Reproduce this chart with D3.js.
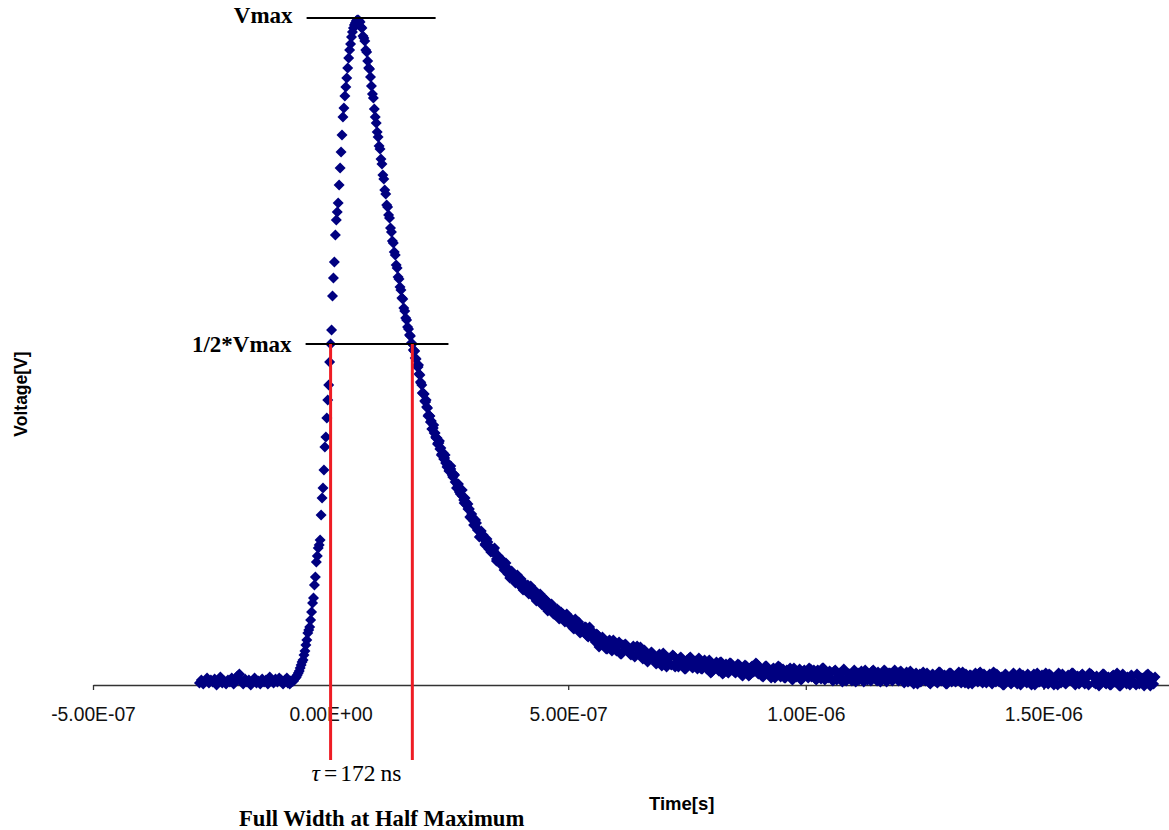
<!DOCTYPE html>
<html>
<head>
<meta charset="utf-8">
<script src="https://cdn.jsdelivr.net/npm/d3@7"></script>
<style>
  html, body { margin: 0; padding: 0; background: #ffffff; }
  svg { display: block; }
</style>
</head>
<body>
<svg id="chart" width="1169" height="830"></svg>
<script>
// Oscilloscope record: sample times (ns)
const timeNs = [
  -276,-272,-268,-264,-260,-256,-252,-248,-244,-240,-236,-232,-228,-224,-220,-216,-212,-208,-204,-200,
  -196,-192,-188,-184,-180,-176,-172,-168,-164,-160,-156,-152,-148,-144,-140,-136,-132,-128,-124,-120,
  -116,-112,-108,-104,-100,-96,-92,
  -90,-88,-86,-84,-82,-80,-78,-76,-74,-72,-70,-68,-66,-64,-62,-60,-58,-56,-54,-52,
  -50,-48,-46,-44,-42,-40,-38,-36,-34,-32,-30,-28,-26,-24,-22,-20,-18,-16,-14,-12,
  -10,-8,-6,-4,-2,0,2,4,6,8,10,12,14,16,18,20,22,24,26,28,
  30,32,34,36,38,40,42,44,46,48,50,52,54,56,58,60,
  62,64,66,68,70,72,74,76,78,80,82,84,86,88,90,92,94,96,98,100,
  102,104,106,108,110,112,114,116,118,120,122,124,126,128,130,132,134,136,138,140,
  142,144,146,148,150,152,154,156,158,160,162,164,166,168,170,172,174,176,178,180,
  182,184,186,188,190,192,194,196,198,200,202,204,206,208,210,212,214,216,218,220,
  222,224,226,228,230,232,234,236,238,240,242,244,246,248,250,
  253,256,259,262,265,268,271,274,277,280,283,286,289,292,295,298,301,304,307,310,
  313,316,319,322,325,328,331,334,337,340,343,346,349,352,355,358,361,364,367,370,
  373,376,379,382,385,388,391,394,397,400,403,406,409,412,415,418,421,424,427,430,
  433,436,439,442,445,448,451,454,457,460,463,466,469,472,475,478,481,484,487,490,
  493,496,499,
  505,510,515,520,525,530,535,540,545,550,555,560,565,570,575,580,585,590,595,600,
  605,610,615,620,625,630,635,640,645,650,655,660,665,670,675,680,685,690,695,700,
  705,710,715,720,725,730,735,740,745,750,755,760,765,770,775,780,785,790,795,800,
  805,810,815,820,825,830,835,840,845,850,855,860,865,870,875,880,885,890,895,900,
  905,910,915,920,925,930,935,940,945,950,955,960,965,970,975,980,985,990,995,1000,
  1005,1010,1015,1020,1025,1030,1035,1040,1045,1050,1055,1060,1065,1070,1075,1080,1085,1090,1095,1100,
  1105,1110,1115,1120,1125,1130,1135,1140,1145,1150,1155,1160,1165,1170,1175,1180,1185,1190,1195,1200,
  1205,1210,1215,1220,1225,1230,1235,1240,1245,1250,1255,1260,1265,1270,1275,1280,1285,1290,1295,1300,
  1305,1310,1315,1320,1325,1330,1335,1340,1345,1350,1355,1360,1365,1370,1375,1380,1385,1390,1395,1400,
  1405,1410,1415,1420,1425,1430,1435,1440,1445,1450,1455,1460,1465,1470,1475,1480,1485,1490,1495,1500,
  1505,1510,1515,1520,1525,1530,1535,1540,1545,1550,1555,1560,1565,1570,1575,1580,1585,1590,1595,1600,
  1605,1610,1615,1620,1625,1630,1635,1640,1645,1650,1655,1660,1665,1670,1675,1680,1685,1690,1695,1700,
  1705,1710,1715,1720,1725,1730,1735
];

// Measured detector voltage (mV) at each sample time
const voltageMv = [
  -13,-10,-14,-11,-8,-13,-10,-12,-9,-15,-12,-7,-13,-11,-14,-10,-12,-8,-14,-11,
  -6,-4,-11,-14,-9,-12,-10,-15,-11,-8,-13,-11,-14,-9,-12,-10,-14,-7,-11,-13,
  -9,-12,-8,-10,-14,-10,-8,
  -13,-12,-14,-11,-12,-10,-11,-9,-8,-7,-5,-3,-1,2,5,8,10,15,19,25,
  30,37,40,43,50,58,67,72,85,93,108,114,122,125,130,155,172,182,200,223,
  233,252,270,285,308,326,340,374,392,408,435,450,458,467,485,502,518,535,553,562,
  574,583,592,602,612,620,626,633,638,642,645,647,649,650,650,649,
  648,643,642,634,632,629,620,618,609,602,601,593,584,576,572,561,553,547,538,533,
  524,521,511,506,495,491,480,476,465,463,455,452,442,438,429,427,418,415,405,402,
  393,391,383,380,372,371,362,359,352,350,343,341,335,334,327,326,320,319,312,311,
  304,303,296,295,287,285,277,276,269,268,263,262,255,254,248,249,241,242,237,237,
  232,232,227,227,221,222,216,216,211,212,207,208,204,205,200,
  201,195,196,188,187,185,178,180,174,170,172,165,161,161,152,153,149,144,147,140,
  139,134,135,131,126,128,128,123,122,118,120,117,111,112,112,107,104,108,104,100,
  99,100,93,96,92,94,90,87,91,86,82,86,84,79,85,80,77,80,75,76,
  70,75,71,73,67,67,71,62,65,63,60,64,56,60,60,56,59,52,54,55,
  50,55,49,
  51,42,51,42,37,42,43,34,43,34,30,36,23,30,27,21,29,23,30,20,
  24,16,25,26,20,16,22,13,24,18,14,20,10,15,18,10,6,14,10,17,
  6,11,6,15,3,8,12,6,1,10,12,3,7,5,12,1,7,2,8,-3,
  4,6,1,8,-4,3,-2,7,0,-2,2,5,-5,0,4,-6,3,-2,7,-4,
  -1,-7,4,-3,-5,1,-8,0,3,-4,-8,0,-4,-9,2,-7,-3,-10,-1,-2,
  -8,1,-5,-9,0,-6,2,-10,-4,-1,-9,-1,-10,-5,-8,1,-11,-4,-7,-2,
  -12,-3,-6,-9,0,-10,-5,-1,-8,-11,-4,-7,0,-12,-3,-9,-2,-6,-11,-1,
  -10,-7,-12,-1,-11,-6,-14,-4,-9,-10,-3,-13,-5,-8,-12,-2,-11,-7,-14,-6,
  -3,-9,-12,-4,-10,-2,-13,-8,-5,-14,-6,-9,-3,-11,-4,-13,-7,-10,-2,-12,
  -6,-9,-15,-4,-10,-7,-12,-5,-14,-3,-11,-8,-13,-6,-15,-4,-9,-12,-7,-10,
  -3,-14,-5,-11,-8,-15,-6,-4,-13,-9,-10,-3,-12,-7,-14,-5,-11,-8,-15,-4,
  -7,-14,-10,-11,-4,-13,-8,-15,-6,-12,-3,-16,-9,-7,-14,-10,-5,-12,-15,-6,
  -11,-8,-13,-4,-16,-9,-7
];

// Second sweep over the decay and tail: sample times (ns)
const sweep2TimeNs = [
  177,181,185,189,193,197,201,205,209,213,217,221,225,229,233,237,241,245,249,253,
  257,261,265,269,273,277,281,285,289,293,297,301,305,309,313,317,321,325,329,333,
  337,341,345,349,353,357,361,365,369,373,377,381,385,389,393,397,401,405,409,413,
  417,421,425,429,433,437,441,445,449,453,457,461,465,469,473,477,481,485,489,493,
  497,
  502,507,512,517,522,527,532,537,542,547,552,557,562,567,572,577,582,587,592,597,
  602,607,612,617,622,627,632,637,642,647,652,657,662,667,672,677,682,687,692,697,
  702,707,712,717,722,727,732,737,742,747,752,757,762,767,772,777,782,787,792,797,
  802,807,812,817,822,827,832,837,842,847,852,857,862,867,872,877,882,887,892,897,
  902,907,912,917,922,927,932,937,942,947,952,957,962,967,972,977,982,987,992,997,
  1002,1007,1012,1017,1022,1027,1032,1037,1042,1047,1052,1057,1062,1067,1072,1077,1082,1087,1092,1097,
  1102,1107,1112,1117,1122,1127,1132,1137,1142,1147,1152,1157,1162,1167,1172,1177,1182,1187,1192,1197,
  1202,1207,1212,1217,1222,1227,1232,1237,1242,1247,1252,1257,1262,1267,1272,1277,1282,1287,1292,1297,
  1302,1307,1312,1317,1322,1327,1332,1337,1342,1347,1352,1357,1362,1367,1372,1377,1382,1387,1392,1397,
  1402,1407,1412,1417,1422,1427,1432,1437,1442,1447,1452,1457,1462,1467,1472,1477,1482,1487,1492,1497,
  1502,1507,1512,1517,1522,1527,1532,1537,1542,1547,1552,1557,1562,1567,1572,1577,1582,1587,1592,1597,
  1602,1607,1612,1617,1622,1627,1632,1637,1642,1647,1652,1657,1662,1667,1672,1677,1682,1687,1692,1697,
  1702,1707,1712,1717,1722,1727,1732
];

// Second sweep voltages (mV)
const sweep2VoltageMv = [
  319,304,305,288,277,276,270,254,254,241,245,233,226,229,215,217,215,203,199,204,
  193,195,182,186,176,180,167,168,166,153,156,145,150,140,133,139,135,125,131,121,
  118,121,122,109,114,107,110,100,107,96,92,99,95,87,95,85,91,80,86,80,
  76,84,74,80,69,74,76,65,64,70,59,66,66,58,55,61,51,58,56,48,
  56,
  46,51,41,47,48,38,38,43,33,38,38,28,35,26,33,29,21,30,19,27,
  19,28,16,24,25,19,15,24,15,22,23,11,19,8,15,17,9,7,16,4,
  14,3,12,5,14,5,3,13,10,1,5,13,2,9,1,10,1,10,1,10,
  -2,5,8,-1,8,-3,6,-3,7,4,-3,6,1,-6,5,-2,-5,4,-1,6,
  3,-6,-3,4,0,-8,2,-5,4,-7,1,-8,-1,2,-10,-2,-5,1,-9,0,
  -6,2,-7,0,-10,-1,-9,2,-3,-8,-2,-11,0,-8,-3,-12,-1,-9,-4,-11,
  0,-7,-10,-1,-12,-3,-5,-11,0,-9,-2,-12,-4,-1,-10,-3,-11,0,-8,-2,
  -4,-13,-2,-10,-5,-14,-3,-9,-12,-2,-11,-6,-14,-4,-7,-13,-2,-10,-5,-14,
  -3,-12,-6,-11,-2,-13,-7,-4,-14,-5,-10,-3,-12,-2,-13,-6,-11,-4,-14,-3,
  -4,-12,-7,-15,-5,-8,-14,-3,-11,-6,-15,-5,-10,-4,-13,-7,-15,-3,-12,-5,
  -14,-8,-4,-11,-15,-6,-3,-13,-7,-14,-5,-10,-3,-15,-6,-12,-4,-14,-7,-3,
  -5,-13,-6,-16,-8,-4,-14,-7,-15,-5,-12,-6,-16,-4,-11,-7,-15,-6,-13,-4,
  -14,-8,-16,-5,-12,-7,-14
];

// Time axis ticks (s) and their printed labels
const tickValues = [-5e-7, 0, 5e-7, 1e-6, 1.5e-6];
const tickLabels = ["-5.00E-07", "0.00E+00", "5.00E-07", "1.00E-06", "1.50E-06"];

// Pulse levels (mV) and the full width at half maximum (ns)
const vMax = 652;
const halfLevel = vMax / 2;
const fwhmStartNs = 0;
const fwhmNs = 172;

// ---------------------------------------------------------------------------
const svg = d3.select("#chart");
const W = 1169, H = 830;
svg.append("rect").attr("width", W).attr("height", H).attr("fill", "#ffffff");

const x = d3.scaleLinear().domain([-5e-7, 1.7643e-6]).range([93, 1169]);
const y = d3.scaleLinear().domain([-15, vMax]).range([685, 18]);

const sansFont = "'Liberation Sans', Arial, sans-serif";
const serifFont = "'Liberation Serif', 'Times New Roman', serif";

// Time axis (drawn under the samples)
const xAxis = d3.axisBottom(x)
  .tickValues(tickValues)
  .tickFormat((d, i) => tickLabels[i])
  .tickSizeInner(5)
  .tickSizeOuter(0);

const gx = svg.append("g")
  .attr("transform", `translate(0,${y(-15)})`)
  .call(xAxis);
gx.select(".domain").attr("stroke", "#333333").attr("stroke-width", 1.3);
gx.selectAll(".tick line").attr("stroke", "#333333").attr("stroke-width", 1.3);
gx.selectAll(".tick text")
  .attr("font-family", sansFont)
  .attr("font-size", 19.3)
  .attr("fill", "#111111")
  .attr("dy", null)
  .attr("y", 36);

// Samples as diamond markers
const toSamples = (ts, vs) => d3.range(Math.min(ts.length, vs.length))
  .map(i => ({ t: ts[i] * 1e-9, v: vs[i] }));
const samples = toSamples(timeNs, voltageMv).concat(toSamples(sweep2TimeNs, sweep2VoltageMv));
const r = 5.5;
svg.append("g")
  .attr("fill", "#000080")
  .selectAll("path")
  .data(samples)
  .join("path")
  .attr("d", `M0,${-r}L${r},0L0,${r}L${-r},0Z`)
  .attr("transform", d => `translate(${x(d.t)},${y(d.v)})`);

// Vmax and half-maximum guide lines
const guides = [
  { v: vMax, from: -50.5e-9, to: 221e-9, label: "Vmax", dy: 5 },
  { v: halfLevel, from: -52.6e-9, to: 248e-9, label: "1/2*Vmax", dy: 8 }
];
const gGuides = svg.append("g");
gGuides.selectAll("line")
  .data(guides)
  .join("line")
  .attr("x1", d => x(d.from)).attr("x2", d => x(d.to))
  .attr("y1", d => y(d.v)).attr("y2", d => y(d.v))
  .attr("stroke", "#000000")
  .attr("stroke-width", 2.2);
gGuides.selectAll("text")
  .data(guides)
  .join("text")
  .attr("x", d => x(d.from) - 14)
  .attr("y", d => y(d.v) + d.dy)
  .attr("text-anchor", "end")
  .attr("font-family", serifFont)
  .attr("font-weight", "bold")
  .attr("font-size", 23)
  .attr("fill", "#000000")
  .text(d => d.label);

// FWHM edges
const edges = [fwhmStartNs * 1e-9, (fwhmStartNs + fwhmNs) * 1e-9];
svg.append("g")
  .selectAll("line")
  .data(edges)
  .join("line")
  .attr("x1", d => x(d)).attr("x2", d => x(d))
  .attr("y1", y(halfLevel)).attr("y2", y(-90))
  .attr("stroke", "#ee1c24")
  .attr("stroke-width", 3);

// Width label, set like an equation
const tau = svg.append("text")
  .attr("x", x(edges[0]) - 19)
  .attr("y", 781)
  .attr("font-family", serifFont)
  .attr("font-size", 23.5)
  .attr("fill", "#000000");
tau.append("tspan").attr("font-style", "italic").text("τ");
tau.append("tspan").attr("dx", 4).text("=");
tau.append("tspan").attr("dx", 3).text(String(fwhmNs));
tau.append("tspan").attr("dx", 5).text("ns");

svg.append("text")
  .attr("x", 239)
  .attr("y", 826)
  .attr("font-family", serifFont)
  .attr("font-weight", "bold")
  .attr("font-size", 22.7)
  .attr("fill", "#000000")
  .text("Full Width at Half Maximum");

// Axis titles
svg.append("text")
  .attr("x", 649)
  .attr("y", 810)
  .attr("font-family", sansFont)
  .attr("font-weight", "bold")
  .attr("font-size", 18.5)
  .attr("fill", "#000000")
  .text("Time[s]");

svg.append("text")
  .attr("transform", "translate(26.5,394) rotate(-90)")
  .attr("text-anchor", "middle")
  .attr("font-family", sansFont)
  .attr("font-weight", "bold")
  .attr("font-size", 17.5)
  .attr("fill", "#000000")
  .text("Voltage[V]");
</script>
</body>
</html>
